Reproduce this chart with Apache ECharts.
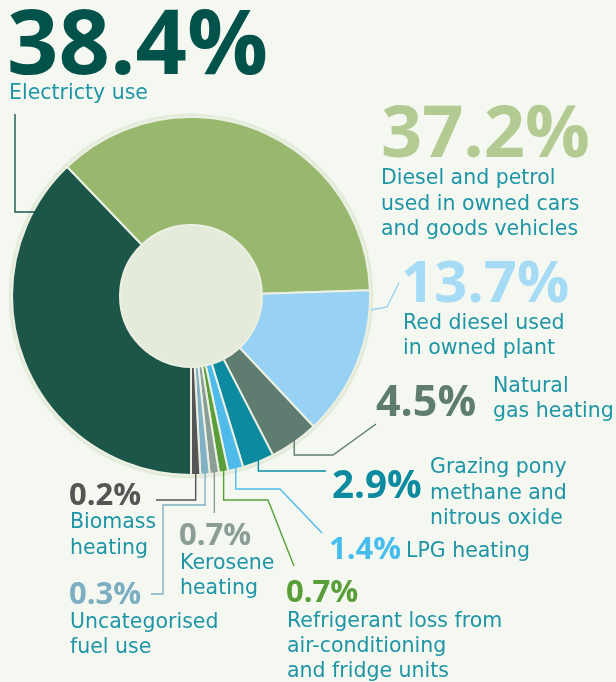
<!DOCTYPE html>
<html><head><meta charset="utf-8">
<script src="https://cdn.jsdelivr.net/npm/echarts@6/dist/echarts.min.js"></script>
<style>html,body{margin:0;padding:0;background:#f5f8f1}#c{width:616px;height:682px}</style>
</head><body><div id="c"></div>
<script>
// ---- data ----
const categories = [
  'Electricty use',
  'Diesel and petrol used in owned cars and goods vehicles',
  'Red diesel used in owned plant',
  'Natural gas heating',
  'Grazing pony methane and nitrous oxide',
  'LPG heating',
  'Refrigerant loss from air-conditioning and fridge units',
  'Kerosene heating',
  'Uncategorised fuel use',
  'Biomass heating'
];
const values = [38.4, 37.2, 13.7, 4.5, 2.9, 1.4, 0.7, 0.7, 0.3, 0.2];
const labelTexts = [
  'Electricty use',
  'Diesel and petrol\nused in owned cars\nand goods vehicles',
  'Red diesel used\nin owned plant',
  'Natural\ngas heating',
  'Grazing pony\nmethane and\nnitrous oxide',
  'LPG heating',
  'Refrigerant loss from\nair-conditioning\nand fridge units',
  'Kerosene\nheating',
  'Uncategorised\nfuel use',
  'Biomass\nheating'
];

// ---- styles / layout ----
const sliceColors = ['#1b5649','#98b86e','#97d1f3','#5e7c70','#0b8aa0','#4fbbea','#5a9e3a','#8a9d96','#7fb0c4','#555555'];
const pctColors   = ['#00524a','#b3cb92','#a6dbf6','#5e7c70','#0b8aa0','#45bdee','#5a9e3a','#8a9d96','#7daec1','#555555'];
const descColor = '#1e95a6';
const CX = 191, CY = 296, R0 = 71, R1 = 179;
// [pctX, pctCenterY, pctFont, descX, descFirstCenterY, lineHeight]
const labelLayout = [
  [7, 44, 90, 9, 93.5, 25],
  [381, 133, 72, 381, 178.5, 25.7],
  [401, 283, 58, 403, 324, 25],
  [376, 402, 43, 493, 387, 24.5],
  [332, 485, 38.5, 430, 468, 25.5],
  [329, 549, 31, 406, 552, 25],
  [286, 592, 31, 287, 622, 25],
  [179, 535, 31, 180, 564, 25],
  [69, 594, 31, 70, 623, 24.5],
  [69, 495, 31, 70, 523, 25.5]
];
const leaders = {
  0: {fixed: [[15,114],[15,212],[50,212]]},
  2: {fixed: [[371,310],[387,307],[399,283]]},
  3: {drop: 455, then: [[333,455],[376,424]]},
  4: {drop: 471, then: [[326,471]]},
  5: {drop: 489, then: [[280,489],[322,533]]},
  6: {drop: 500, then: [[268,500],[294,566]]},
  7: {drop: 513, then: []},
  8: {drop: 505, then: [[163,505],[163,594],[151,594]]},
  9: {drop: 500, then: [[156,500]]}
};

const chart = echarts.init(document.getElementById('c'), null, {renderer: 'canvas'});
chart.setOption({
  backgroundColor: '#f5f8f1',
  animation: false,
  series: [
    {
      type: 'pie', silent: true, radius: [0, R1 + 3.5], center: [CX, CY],
      label: {show: false}, labelLine: {show: false}, z: 1,
      data: [{value: 1, itemStyle: {color: '#e4ebda'}}]
    },
    {
      type: 'pie', name: 'Emissions', silent: true,
      radius: [R0, R1], center: [CX, CY], startAngle: 270, clockwise: true,
      minAngle: 3, avoidLabelOverlap: false,
      label: {show: false}, labelLine: {show: false}, z: 2,
      itemStyle: {borderColor: '#ebf0e3', borderWidth: 2},
      data: categories.map((c, i) => ({name: c, value: values[i], itemStyle: {color: sliceColors[i]}}))
    }
  ]
});

function getLayouts() {
  try {
    const data = chart.getModel().getSeriesByIndex(1).getData();
    const out = [];
    for (let i = 0; i < values.length; i++) {
      const l = data.getItemLayout(i);
      out.push({mid: (l.startAngle + l.endAngle) / 2, cx: l.cx, cy: l.cy, r: l.r});
    }
    return out;
  } catch (e) {
    const total = values.reduce((a, b) => a + b, 0);
    const minA = 3 * Math.PI / 180;
    let rest = Math.PI * 2, big = 0;
    const ang = values.map(v => { const a = v / total * Math.PI * 2; if (a < minA) { rest -= minA; return -1; } big += v; return a; });
    let cur = -270 * Math.PI / 180;
    return values.map((v, i) => {
      const a = ang[i] < 0 ? minA : v * rest / big;
      const mid = cur + a / 2; cur += a;
      return {mid: mid, cx: CX, cy: CY, r: R1};
    });
  }
}

const lay = getLayouts();
const graphics = [];
values.forEach((v, i) => {
  const L = labelLayout[i];
  graphics.push({
    type: 'text', x: L[0], y: L[1] + 0.045 * L[2], z: 20,
    style: {text: v.toFixed(1) + '%', fill: pctColors[i], fontFamily: '"Open Sans"', fontWeight: 700,
      fontSize: L[2], align: 'left', textAlign: 'left', verticalAlign: 'middle', textVerticalAlign: 'middle'}
  });
  graphics.push({
    type: 'text', x: L[3], y: L[4] - L[5] / 2, z: 20,
    style: {text: labelTexts[i], fill: descColor, fontFamily: '"DejaVu Sans"', fontSize: 20.5,
      lineHeight: L[5], align: 'left', textAlign: 'left', verticalAlign: 'top', textVerticalAlign: 'top'}
  });
  const ld = leaders[i];
  if (!ld) return;
  let pts;
  if (ld.fixed) pts = ld.fixed;
  else {
    const g = lay[i];
    const sx = g.cx + g.r * Math.cos(g.mid);
    const sy = g.cy + g.r * Math.sin(g.mid) - 2;
    pts = [[sx, sy], [sx, ld.drop]].concat(ld.then);
  }
  graphics.push({
    type: 'polyline', z: 15, silent: true,
    shape: {points: pts},
    style: {stroke: sliceColors[i], lineWidth: 1.4, fill: null}
  });
});
chart.setOption({graphic: graphics});
</script>
</body></html>
